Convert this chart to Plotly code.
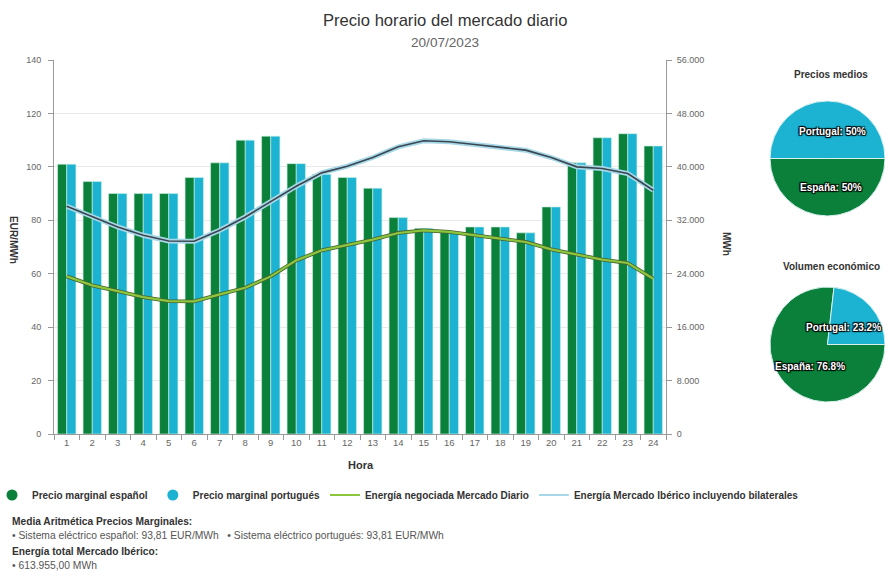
import plotly.graph_objects as go

hours = [str(h) for h in range(1, 25)]
precio_es = [101.0, 94.5, 90.0, 90.0, 90.0, 96.0, 101.5, 110.0, 111.5, 101.2, 97.2, 96.0,
             92.0, 81.0, 77.0, 75.5, 77.5, 77.5, 75.3, 85.0, 101.5, 110.9, 112.4, 107.8]
precio_pt = [101.0, 94.5, 90.0, 90.0, 90.0, 96.0, 101.5, 110.0, 111.5, 101.2, 97.2, 96.0,
             92.0, 81.0, 77.0, 75.5, 77.5, 77.5, 75.3, 85.0, 101.5, 110.9, 112.4, 107.8]
energia_diario = [23600, 22250, 21400, 20500, 19900, 19850, 20900, 21900, 23600, 26000, 27500, 28250,
                  29100, 30100, 30500, 30250, 29750, 29250, 28750, 27650, 26850, 26100, 25600, 23250]
energia_iberico = [34100, 32500, 31000, 29750, 28900, 28850, 30500, 32500, 34750, 37100, 39100, 40100,
                   41400, 43000, 43900, 43750, 43350, 42900, 42500, 41400, 40000, 39750, 39000, 36500]
pie_labels = ["España", "Portugal"]
precios_medios = [50, 50]
volumen_economico = [76.8, 23.2]

GREEN = "#0a803a"
BLUE = "#1bb3d1"
LGREEN = "#8cc63f"
LBLUE = "#a8d8e8"
FONT = "Liberation Sans, Arial, sans-serif"

W, H = 885, 571
PL, PR, PT, PB = 54, 666, 60, 434


def px(x):
    return x / W


def py(y):
    return (PB - y) / (PB - PT)


fig = go.Figure()

fig.add_trace(go.Bar(x=hours, y=precio_es, name="Precio marginal español", marker_color=GREEN,
                     marker_line=dict(color="rgba(200,240,225,0.8)", width=0.8), showlegend=False))
fig.add_trace(go.Bar(x=hours, y=precio_pt, name="Precio marginal portugués", marker_color=BLUE,
                     marker_line=dict(color="rgba(200,240,225,0.8)", width=0.8), showlegend=False))

# Energy lines (secondary axis)
fig.add_trace(go.Scatter(x=hours, y=energia_diario, yaxis="y2", mode="lines",
                         line=dict(color="#46612f", width=3.8), showlegend=False, hoverinfo="skip"))
fig.add_trace(go.Scatter(x=hours, y=energia_diario, yaxis="y2", mode="lines",
                         line=dict(color=LGREEN, width=2.2), showlegend=False))
fig.add_trace(go.Scatter(x=hours, y=energia_iberico, yaxis="y2", mode="lines",
                         line=dict(color=LBLUE, width=5), showlegend=False))
fig.add_trace(go.Scatter(x=hours, y=energia_iberico, yaxis="y2", mode="lines",
                         line=dict(color="#3a4650", width=1.6), showlegend=False, hoverinfo="skip"))

# Legend entries
fig.add_trace(go.Scatter(x=[None], y=[None], mode="markers", name="<b>Precio marginal español</b>",
                         marker=dict(color=GREEN, size=11, symbol="circle")))
fig.add_trace(go.Scatter(x=[None], y=[None], mode="markers", name="<b>Precio marginal portugués</b>",
                         marker=dict(color=BLUE, size=11, symbol="circle")))
fig.add_trace(go.Scatter(x=[None], y=[None], mode="lines", name="<b>Energía negociada Mercado Diario</b>",
                         line=dict(color=LGREEN, width=2)))
fig.add_trace(go.Scatter(x=[None], y=[None], mode="lines",
                         name="<b>Energía Mercado Ibérico incluyendo bilaterales</b>",
                         line=dict(color=LBLUE, width=2)))

fig.add_trace(go.Pie(labels=pie_labels, values=precios_medios, sort=False, direction="clockwise",
                     rotation=90, marker=dict(colors=[GREEN, BLUE], line=dict(color="#d8f0ee", width=1)),
                     textinfo="none", showlegend=False,
                     domain=dict(x=[px(770), 1.0], y=[py(221), py(96)])))
fig.add_trace(go.Pie(labels=pie_labels, values=volumen_economico, sort=False, direction="clockwise",
                     rotation=90, marker=dict(colors=[GREEN, BLUE], line=dict(color="#d8f0ee", width=1)),
                     textinfo="none", showlegend=False,
                     domain=dict(x=[px(770), 1.0], y=[py(406), py(283)])))

shadow = "1px 1px 1px #000, -1px -1px 1px #000, 1px -1px 1px #000, -1px 1px 1px #000"
pie_font = dict(color="white", size=10, weight="bold", shadow=shadow)


def pie_text(label, value):
    return f"{label}: {value:g}%"


annotations = [
    dict(text="Precio horario del mercado diario", x=px(445), y=py(20), font=dict(size=16.6, color="#333")),
    dict(text="20/07/2023", x=px(445), y=py(42), font=dict(size=13.6, color="#666")),
    dict(text="<b>EUR/MWh</b>", x=px(14), y=py(240), textangle=90, font=dict(size=10, color="#333")),
    dict(text="<b>MWh</b>", x=px(727), y=py(244), textangle=90, font=dict(size=10, color="#333")),
    dict(text="<b>Hora</b>", x=px(361), y=py(465), font=dict(size=11, color="#333")),
    dict(text="<b>Precios medios</b>", x=px(831), y=py(74), font=dict(size=10, color="#333")),
    dict(text="<b>Volumen económico</b>", x=px(831), y=py(266), font=dict(size=10, color="#333")),
    # pie labels
    dict(text=pie_text(pie_labels[1], precios_medios[1]), x=px(832), y=py(131), font=pie_font),
    dict(text=pie_text(pie_labels[0], precios_medios[0]), x=px(831), y=py(187), font=pie_font),
    dict(text=pie_text(pie_labels[1], volumen_economico[1]), x=px(883), y=py(327), xanchor="right",
         font=pie_font),
    dict(text=pie_text(pie_labels[0], volumen_economico[0]), x=px(810), y=py(366), font=pie_font),
    # bottom info
    dict(text="<b>Media Aritmética Precios Marginales:</b>", x=px(10), y=py(521), xanchor="left",
         font=dict(size=10.2, color="#333")),
    dict(text="• Sistema eléctrico español: 93,81 EUR/MWh   • Sistema eléctrico portugués: 93,81 EUR/MWh",
         x=px(10), y=py(535), xanchor="left", font=dict(size=10.3, color="#555")),
    dict(text="<b>Energía total Mercado Ibérico:</b>", x=px(10), y=py(551), xanchor="left",
         font=dict(size=10.2, color="#333")),
    dict(text="• 613.955,00 MWh", x=px(10), y=py(565), xanchor="left", font=dict(size=10.3, color="#555")),
]
for a in annotations:
    a.setdefault("xanchor", "center")
    a.update(xref="paper", yref="paper", yanchor="middle", showarrow=False)

fig.update_layout(
    width=W, height=H,
    margin=dict(l=0, r=0, t=PT, b=H - PB, pad=0, autoexpand=False),
    paper_bgcolor="white", plot_bgcolor="white",
    font=dict(family=FONT, color="#666", size=10),
    separators=",.",
    barmode="group", bargap=0.28, bargroupgap=0,
    xaxis=dict(domain=[px(PL), px(PR)], type="category", tickson="boundaries", ticks="outside",
               ticklen=5, tickcolor="#999", showline=True, linecolor="#999", linewidth=1,
               showgrid=False, tickfont=dict(size=9.5, color="#666"), automargin=False),
    yaxis=dict(range=[0, 140], dtick=20, showline=True, linecolor="#999", linewidth=1, ticks="outside",
               ticklen=5, tickcolor="#999", gridcolor="#e9e9e9", zeroline=False, ticklabelstandoff=5,
               tickfont=dict(size=9, color="#666"), automargin=False),
    yaxis2=dict(range=[0, 56000], dtick=8000, overlaying="y", side="right", anchor="x",
                showline=True, linecolor="#999", linewidth=1, ticks="outside", ticklen=5,
                tickcolor="#999", showgrid=False, zeroline=False, tickformat=",d", ticklabelstandoff=3,
                tickfont=dict(size=9, color="#666"), automargin=False),
    legend=dict(orientation="h", x=-8 / W, xanchor="left", y=py(495), yanchor="middle",
                font=dict(size=10, color="#333"), itemwidth=30, bgcolor="rgba(0,0,0,0)"),
    annotations=annotations,
)

fig.write_html("out.html")
